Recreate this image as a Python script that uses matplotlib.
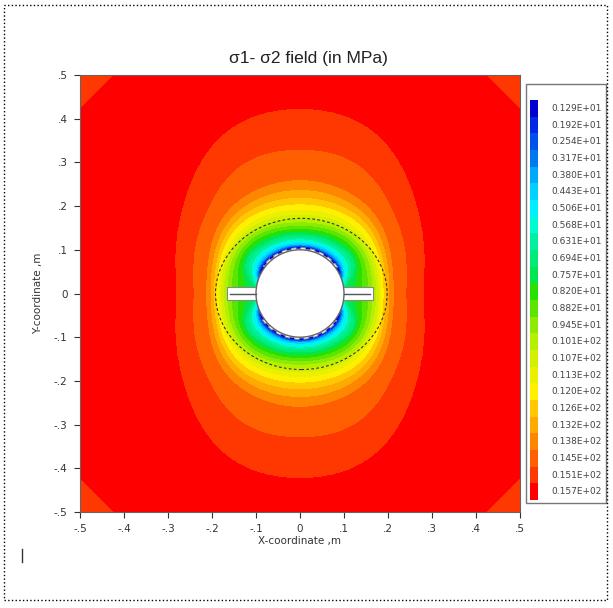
import numpy as np
import matplotlib
matplotlib.use('Agg')
import matplotlib.pyplot as plt
from matplotlib.colors import ListedColormap, BoundaryNorm
from matplotlib.patches import Circle, Rectangle, Ellipse, Polygon

# legend levels of sigma1 - sigma2 (MPa), top to bottom of the legend
levels = [1.29, 1.92, 2.54, 3.17, 3.80, 4.43, 5.06, 5.68, 6.31, 6.94, 7.57, 8.20,
          8.82, 9.45, 10.1, 10.7, 11.3, 12.0, 12.6, 13.2, 13.8, 14.5, 15.1, 15.7]
level_labels = ['0.129E+01', '0.192E+01', '0.254E+01', '0.317E+01', '0.380E+01',
                '0.443E+01', '0.506E+01', '0.568E+01', '0.631E+01', '0.694E+01',
                '0.757E+01', '0.820E+01', '0.882E+01', '0.945E+01', '0.101E+02',
                '0.107E+02', '0.113E+02', '0.120E+02', '0.126E+02', '0.132E+02',
                '0.138E+02', '0.145E+02', '0.151E+02', '0.157E+02']
band_colors = ['#0000d2', '#0028e6', '#0050eb', '#0078f0', '#00aaf8', '#00d2ff',
               '#00f0ff', '#00fad2', '#00f0a0', '#00eb78', '#00e650', '#28e100',
               '#5ae600', '#8ceb00', '#b4f000', '#d2f000', '#ebf000', '#fff000',
               '#ffc800', '#ffaa00', '#ff8700', '#ff5f00', '#ff3700', '#ff0000']

# radius (m) where each level's contour sits,
# at these angles (deg) measured from the x axis (field is symmetric)
angles = [0, 22.5, 45, 67.5, 90]
contour_r = [
    [0.080, 0.098, 0.105, 0.105, 0.105],
    [0.082, 0.099, 0.107, 0.107, 0.1065],
    [0.084, 0.1005, 0.109, 0.109, 0.108],
    [0.086, 0.102, 0.111, 0.110, 0.1095],
    [0.088, 0.104, 0.113, 0.112, 0.111],
    [0.090, 0.106, 0.116, 0.114, 0.113],
    [0.092, 0.109, 0.120, 0.118, 0.116],
    [0.094, 0.113, 0.125, 0.122, 0.120],
    [0.096, 0.119, 0.131, 0.127, 0.125],
    [0.098, 0.126, 0.138, 0.133, 0.130],
    [0.100, 0.134, 0.145, 0.139, 0.136],
    [0.122, 0.143, 0.152, 0.146, 0.142],
    [0.142, 0.153, 0.160, 0.153, 0.149],
    [0.156, 0.163, 0.168, 0.161, 0.156],
    [0.166, 0.172, 0.176, 0.169, 0.164],
    [0.174, 0.179, 0.183, 0.177, 0.172],
    [0.180, 0.186, 0.190, 0.186, 0.181],
    [0.186, 0.192, 0.198, 0.196, 0.192],
    [0.191, 0.198, 0.209, 0.208, 0.205],
    [0.197, 0.205, 0.220, 0.222, 0.220],
    [0.204, 0.214, 0.232, 0.238, 0.238],
    [0.214, 0.225, 0.248, 0.258, 0.260],
    [0.243, 0.260, 0.290, 0.325, 0.330],
    [0.282, 0.305, 0.354, 0.410, 0.423],
]
far_value = 16.3
corner_cut = 0.92      # |x|+|y| beyond which the corners drop a band
corner_value = 15.4

hole_r = 0.10
notch_len = 0.167
notch_half = 0.014
plastic_a, plastic_b = 0.195, 0.173

xticks = [-0.5, -0.4, -0.3, -0.2, -0.1, 0, 0.1, 0.2, 0.3, 0.4, 0.5]
xtick_labels = ['-.5', '-.4', '-.3', '-.2', '-.1', '0', '.1', '.2', '.3', '.4', '.5']
yticks = xticks
ytick_labels = xtick_labels

# build the field from the contour radii (smooth even interpolation in angle)
xs = np.linspace(-0.5, 0.5, 701)
X, Y = np.meshgrid(xs, xs)
r = np.hypot(X, Y)
th = np.arctan2(np.abs(Y), np.abs(X))
ang = np.radians(angles)
A = np.cos(2 * np.outer(ang, np.arange(len(angles))))
coef = np.linalg.solve(A, np.array(contour_r).T)          # (n_terms, n_levels)
basis = np.cos(2 * th[..., None] * np.arange(len(angles)))  # (ny, nx, n_terms)
rk = np.moveaxis(basis @ coef, -1, 0)                      # (n_levels, ny, nx)
rk = np.maximum.accumulate(rk + 1e-6 * np.arange(len(levels))[:, None, None], axis=0)
R = np.concatenate([np.zeros((1,) + r.shape), rk, np.full((1,) + r.shape, 1.0)])
V = np.array([0.0] + levels + [far_value])
j = np.clip((r[None] > R).sum(0), 1, len(V) - 1)
r0 = np.take_along_axis(R, (j - 1)[None], 0)[0]
r1 = np.take_along_axis(R, j[None], 0)[0]
F = V[j - 1] + (V[j] - V[j - 1]) * (r - r0) / np.maximum(r1 - r0, 1e-9)
F = np.where(np.abs(X) + np.abs(Y) > corner_cut, corner_value, F)
F = np.clip(F, levels[0] + 0.01, 16.9)

cmap = ListedColormap(band_colors)
bounds = levels + [17.0]
norm = BoundaryNorm(bounds, cmap.N)

fig = plt.figure(figsize=(6.13, 6.08), dpi=100)
W, H = 613, 608

ax = fig.add_axes([80 / W, 1 - 512 / H, 440 / W, 437 / H])
ax.contourf(X, Y, F, levels=bounds, cmap=cmap, norm=norm, antialiased=False)

# notches, yielded elements at the wall, and the opening
for s in (-1, 1):
    x0 = 0.0 if s > 0 else -notch_len
    ax.add_patch(Rectangle((x0, -notch_half), notch_len, 2 * notch_half,
                           facecolor='white', edgecolor='#888888', lw=0.8, zorder=3))
for a0, a1 in ((35, 145), (215, 325)):
    t = np.radians(np.arange(a0, a1 + 1, 6))
    rr = hole_r + np.where(np.arange(len(t)) % 2 == 0, 0.005, 0.002)
    tt = np.repeat(t, 2)[1:]
    rs = np.repeat(rr, 2)[:-1]
    pts = np.column_stack([rs * np.cos(tt), rs * np.sin(tt)])
    ax.add_patch(Polygon(pts, closed=True, facecolor='white', edgecolor='#999999',
                         lw=0.6, zorder=3))
ax.add_patch(Circle((0, 0), hole_r, facecolor='white', edgecolor='#666666', lw=1.0, zorder=4))
for s in (-1, 1):
    ax.plot([s * hole_r, s * (notch_len - 0.008)], [0, 0], color='#555555', lw=1.0, zorder=5)
ax.add_patch(Ellipse((0.003, -0.001), 2 * plastic_a, 2 * plastic_b, fill=False,
                     edgecolor='#333333', lw=0.8, ls=(0, (2.5, 2)), zorder=5))

ax.set_xlim(-0.5, 0.5)
ax.set_ylim(-0.5, 0.5)
ax.set_xticks(xticks)
ax.set_xticklabels(xtick_labels)
ax.set_yticks(yticks)
ax.set_yticklabels(ytick_labels)
ax.tick_params(direction='out', length=4, width=0.8, colors='#333333', labelsize=7.5,
               top=False, right=False, pad=5)
for sp in ax.spines.values():
    sp.set_color('#666666')
    sp.set_linewidth(0.8)
ax.set_xlabel('X-coordinate ,m', fontsize=7.5, color='#333333', labelpad=1)
ax.set_ylabel('Y-coordinate ,m', fontsize=7.5, color='#333333', labelpad=8)

fig.text(308 / W, 1 - 58 / H, 'σ1- σ2 field (in MPa)', ha='center', va='center',
         fontsize=12.5, family='Liberation Sans', color='#222222')

# legend box with colour swatches
fig.patches.append(Rectangle((526 / W, 1 - 503 / H), 80 / W, 419 / H, transform=fig.transFigure,
                             fill=False, edgecolor='#777777', lw=1.0))
cax = fig.add_axes([530 / W, 1 - 500 / H, 8 / W, 400 / H])
cax.imshow(np.arange(len(levels))[:, None], cmap=cmap, aspect='auto',
           interpolation='nearest')
cax.set_axis_off()
step = 400 / len(levels)
for k, lab in enumerate(level_labels):
    fig.text(551 / W, 1 - (100 + (k + 0.5) * step) / H, lab, ha='left', va='center',
             fontsize=6.5, color='#444444')

# dotted frame around the whole picture
fig.patches.append(Rectangle((4 / W, 1 - 600 / H), 603 / W, 595 / H, transform=fig.transFigure,
                             fill=False, edgecolor='black', lw=1.0, ls=':'))
fig.lines.append(plt.Line2D([22 / W, 22 / W], [1 - 562 / H, 1 - 549 / H],
                            transform=fig.transFigure, color='#333333', lw=1.0))

fig.savefig('out.png', dpi=100)
